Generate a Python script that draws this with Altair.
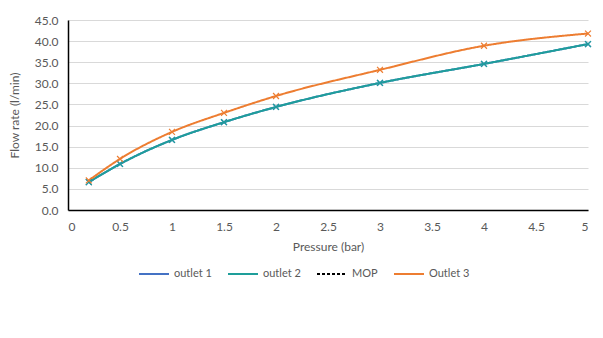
import altair as alt
import pandas as pd

pressure = [0.2, 0.5, 1, 1.5, 2, 3, 4, 5]
outlet1 = [6.6, 10.9, 16.6, 20.8, 24.4, 30.1, 34.6, 39.3]
outlet2 = [6.6, 10.9, 16.6, 20.8, 24.4, 30.1, 34.6, 39.3]
outlet3 = [7.0, 12.1, 18.5, 23.0, 27.0, 33.2, 38.9, 41.8]

series_names = ["outlet 1", "outlet 2", "MOP", "Outlet 3"]
series_colors = ["#4472C4", "#1E9E9A", "#000000", "#ED7D31"]
series_dash = [[1, 0], [1, 0], [3, 2], [1, 0]]
x_ticks = [0, 0.5, 1, 1.5, 2, 2.5, 3, 3.5, 4, 4.5, 5]
y_ticks = [0, 5, 10, 15, 20, 25, 30, 35, 40, 45]

rows = []
for name, vals in [("outlet 1", outlet1), ("outlet 2", outlet2), ("Outlet 3", outlet3)]:
    for p, v in zip(pressure, vals):
        rows.append({"Pressure": p, "Flow": v, "Series": name})
df = pd.DataFrame(rows)

font = "Lato"
gray = "#595959"

legend = alt.Legend(
    title=None, orient="none", direction="horizontal", legendX=70, legendY=238,
    symbolType="stroke", symbolSize=900, symbolStrokeWidth=2,
    labelFont=font, labelFontSize=11, labelColor=gray, columnPadding=12,
)

color = alt.Color("Series:N", scale=alt.Scale(domain=series_names, range=series_colors), legend=legend)
dash = alt.StrokeDash("Series:N", scale=alt.Scale(domain=series_names, range=series_dash), legend=legend)

x = alt.X(
    "Pressure:Q",
    scale=alt.Scale(domain=[0, 5], nice=False),
    axis=alt.Axis(
        title="Pressure (bar)", values=x_ticks,
        format="~g", grid=False, ticks=False, domainColor="#000000", domainWidth=1.5,
        labelPadding=11, titlePadding=9, labelOverlap=False,
    ),
)
y = alt.Y(
    "Flow:Q",
    scale=alt.Scale(domain=[0, 45], nice=False),
    axis=alt.Axis(
        title="Flow rate (l/min)", values=y_ticks, tickCount=10,
        format=".1f", ticks=False, domainColor="#000000", domainWidth=1.5,
        gridColor="#D9D9D9", labelPadding=10, titlePadding=13, labelOverlap=False,
    ),
)

base = alt.Chart(df).encode(x=x, y=y)
lines = base.mark_line(interpolate="monotone", strokeWidth=2).encode(
    color=color, strokeDash=dash
)
points = base.mark_point(
    shape="M-1,-1L1,1M1,-1L-1,1", filled=False, size=35, strokeWidth=1.2, opacity=1
).encode(
    color=alt.Color("Series:N", scale=alt.Scale(domain=series_names, range=series_colors), legend=None),
)

chart = (
    alt.layer(lines, points)
    .properties(width=520, height=190, padding={"left": 0, "top": 6, "right": 0, "bottom": 5})
    .configure(background="white")
    .configure_view(stroke=None)
    .configure_axis(
        labelFont=font, labelFontSize=12, labelColor=gray,
        titleFont=font, titleFontSize=12, titleColor=gray, titleFontWeight="normal",
    )
)

chart.save("out.html", embed_options={"renderer": "svg", "actions": False})
